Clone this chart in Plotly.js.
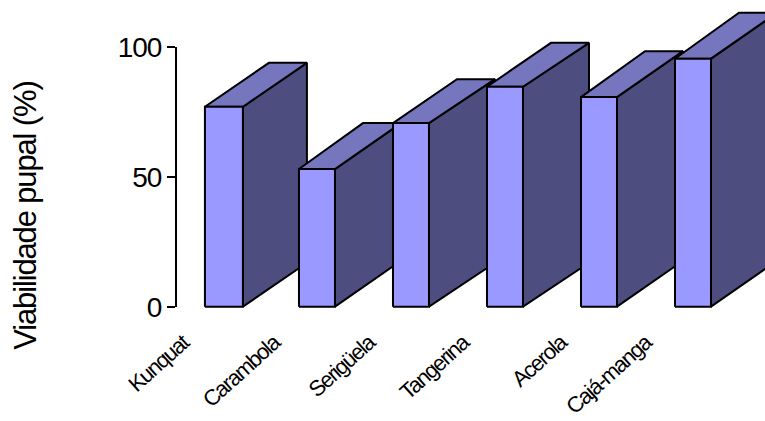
<!DOCTYPE html>
<html>
<head>
<meta charset="utf-8">
<script src="https://cdn.plot.ly/plotly-3.0.1.min.js"></script>
<style>
  html, body { margin: 0; padding: 0; background: #fff; }
  .xtick text { letter-spacing: -1.5px; }
  .ytick text { letter-spacing: -1px; }
  .annotation-text { letter-spacing: -1.15px; }
</style>
</head>
<body>
<div id="chart" style="width:765px;height:421px"></div>
<script>
// Viabilidade pupal por hospedeiro
const categories = ["Kunquat", "Carambola", "Serigüela", "Tangerina", "Acerola", "Cajá-manga"];
const viabilidade = [77, 53, 70.7, 84.7, 80.7, 95.5];
const yTicks = [0, 50, 100];
const yTitle = "Viabilidade pupal (%)";

// Pseudo-3D box geometry, in axis units
const barWidths = [0.404, 0.383, 0.383, 0.383, 0.383, 0.383];
const barCentres = [0.01, 1, 2, 3, 4, 5];
const backWidth = 0.404;
const depthX = 0.681;
const depthY = [16.9, 17.7, 16.9, 16.9, 17.7, 17.7];
const labelShift = [0.44, 0.46, 0.45, 0.45, 0.41, 0.51];

const faceColours = { front: "#9999ff", side: "#4d4d80", top: "#7676bf" };
const edge = { color: "#000", width: 2 };

function face(xs, ys, colour) {
  return {
    type: "scatter", mode: "lines", x: xs, y: ys, xaxis: "x", yaxis: "y2",
    fill: "toself", fillcolor: colour, line: edge,
    hoverinfo: "skip", showlegend: false
  };
}

// The visible scale needs a trace of its own for the axis to be laid out
const traces = [{
  type: "scatter", mode: "markers", x: barCentres, y: viabilidade, xaxis: "x", yaxis: "y",
  marker: { opacity: 0 }, hoverinfo: "skip", showlegend: false
}];

// Boxes are painted left to right so each one covers its neighbour's side face
viabilidade.forEach((v, i) => {
  const l = barCentres[i] - barWidths[i] / 2;
  const r = barCentres[i] + barWidths[i] / 2;
  const bl = l + depthX;
  const br = bl + backWidth;
  const d = depthY[i];
  traces.push(face([r, br, br, r, r], [0, d, v + d, v, 0], faceColours.side));
  traces.push(face([l, bl, br, r, l], [v, v + d, v + d, v, v], faceColours.top));
  traces.push(face([l, r, r, l, l], [0, 0, v, v, 0], faceColours.front));
});

const layout = {
  width: 765, height: 421, autosize: false,
  margin: { l: 177, r: 0, t: 0, b: 110 },
  paper_bgcolor: "#fff", plot_bgcolor: "rgba(0,0,0,0)",
  font: { family: "Liberation Sans, Arial, sans-serif", color: "#000" },
  showlegend: false,
  xaxis: {
    range: [-0.489, 5.766], anchor: "y2", showgrid: false, zeroline: false, showline: false,
    tickmode: "array", tickvals: barCentres.map((c, i) => c - labelShift[i]), ticktext: categories,
    tickangle: -42, ticks: "", ticklabelstandoff: 14,
    tickfont: { size: 22, color: "#000" }
  },
  // Visible scale covers 0-100 only; the boxes rise above it on the hidden axis
  yaxis: {
    domain: [0.01383, 0.8489], range: [0, 100], anchor: "x",
    showgrid: false, zeroline: false,
    showline: true, linecolor: "#000", linewidth: 2,
    tickmode: "array", tickvals: yTicks,
    ticks: "outside", ticklen: 8, tickwidth: 2, tickcolor: "#000",
    tickfont: { size: 28, color: "#000" }
  },
  yaxis2: {
    domain: [0, 1], range: [-1.66, 118.1], anchor: "x", visible: false
  },
  // Axis title sits below the centre of the scale, so it is placed by hand
  annotations: [{
    text: yTitle, textangle: -90, showarrow: false,
    xref: "paper", x: -0.257, xanchor: "center",
    yref: "y", y: 35, yanchor: "middle",
    font: { size: 31, color: "#000" }
  }]
};

Plotly.newPlot("chart", traces, layout, { displayModeBar: false, staticPlot: true });
</script>
</body>
</html>
